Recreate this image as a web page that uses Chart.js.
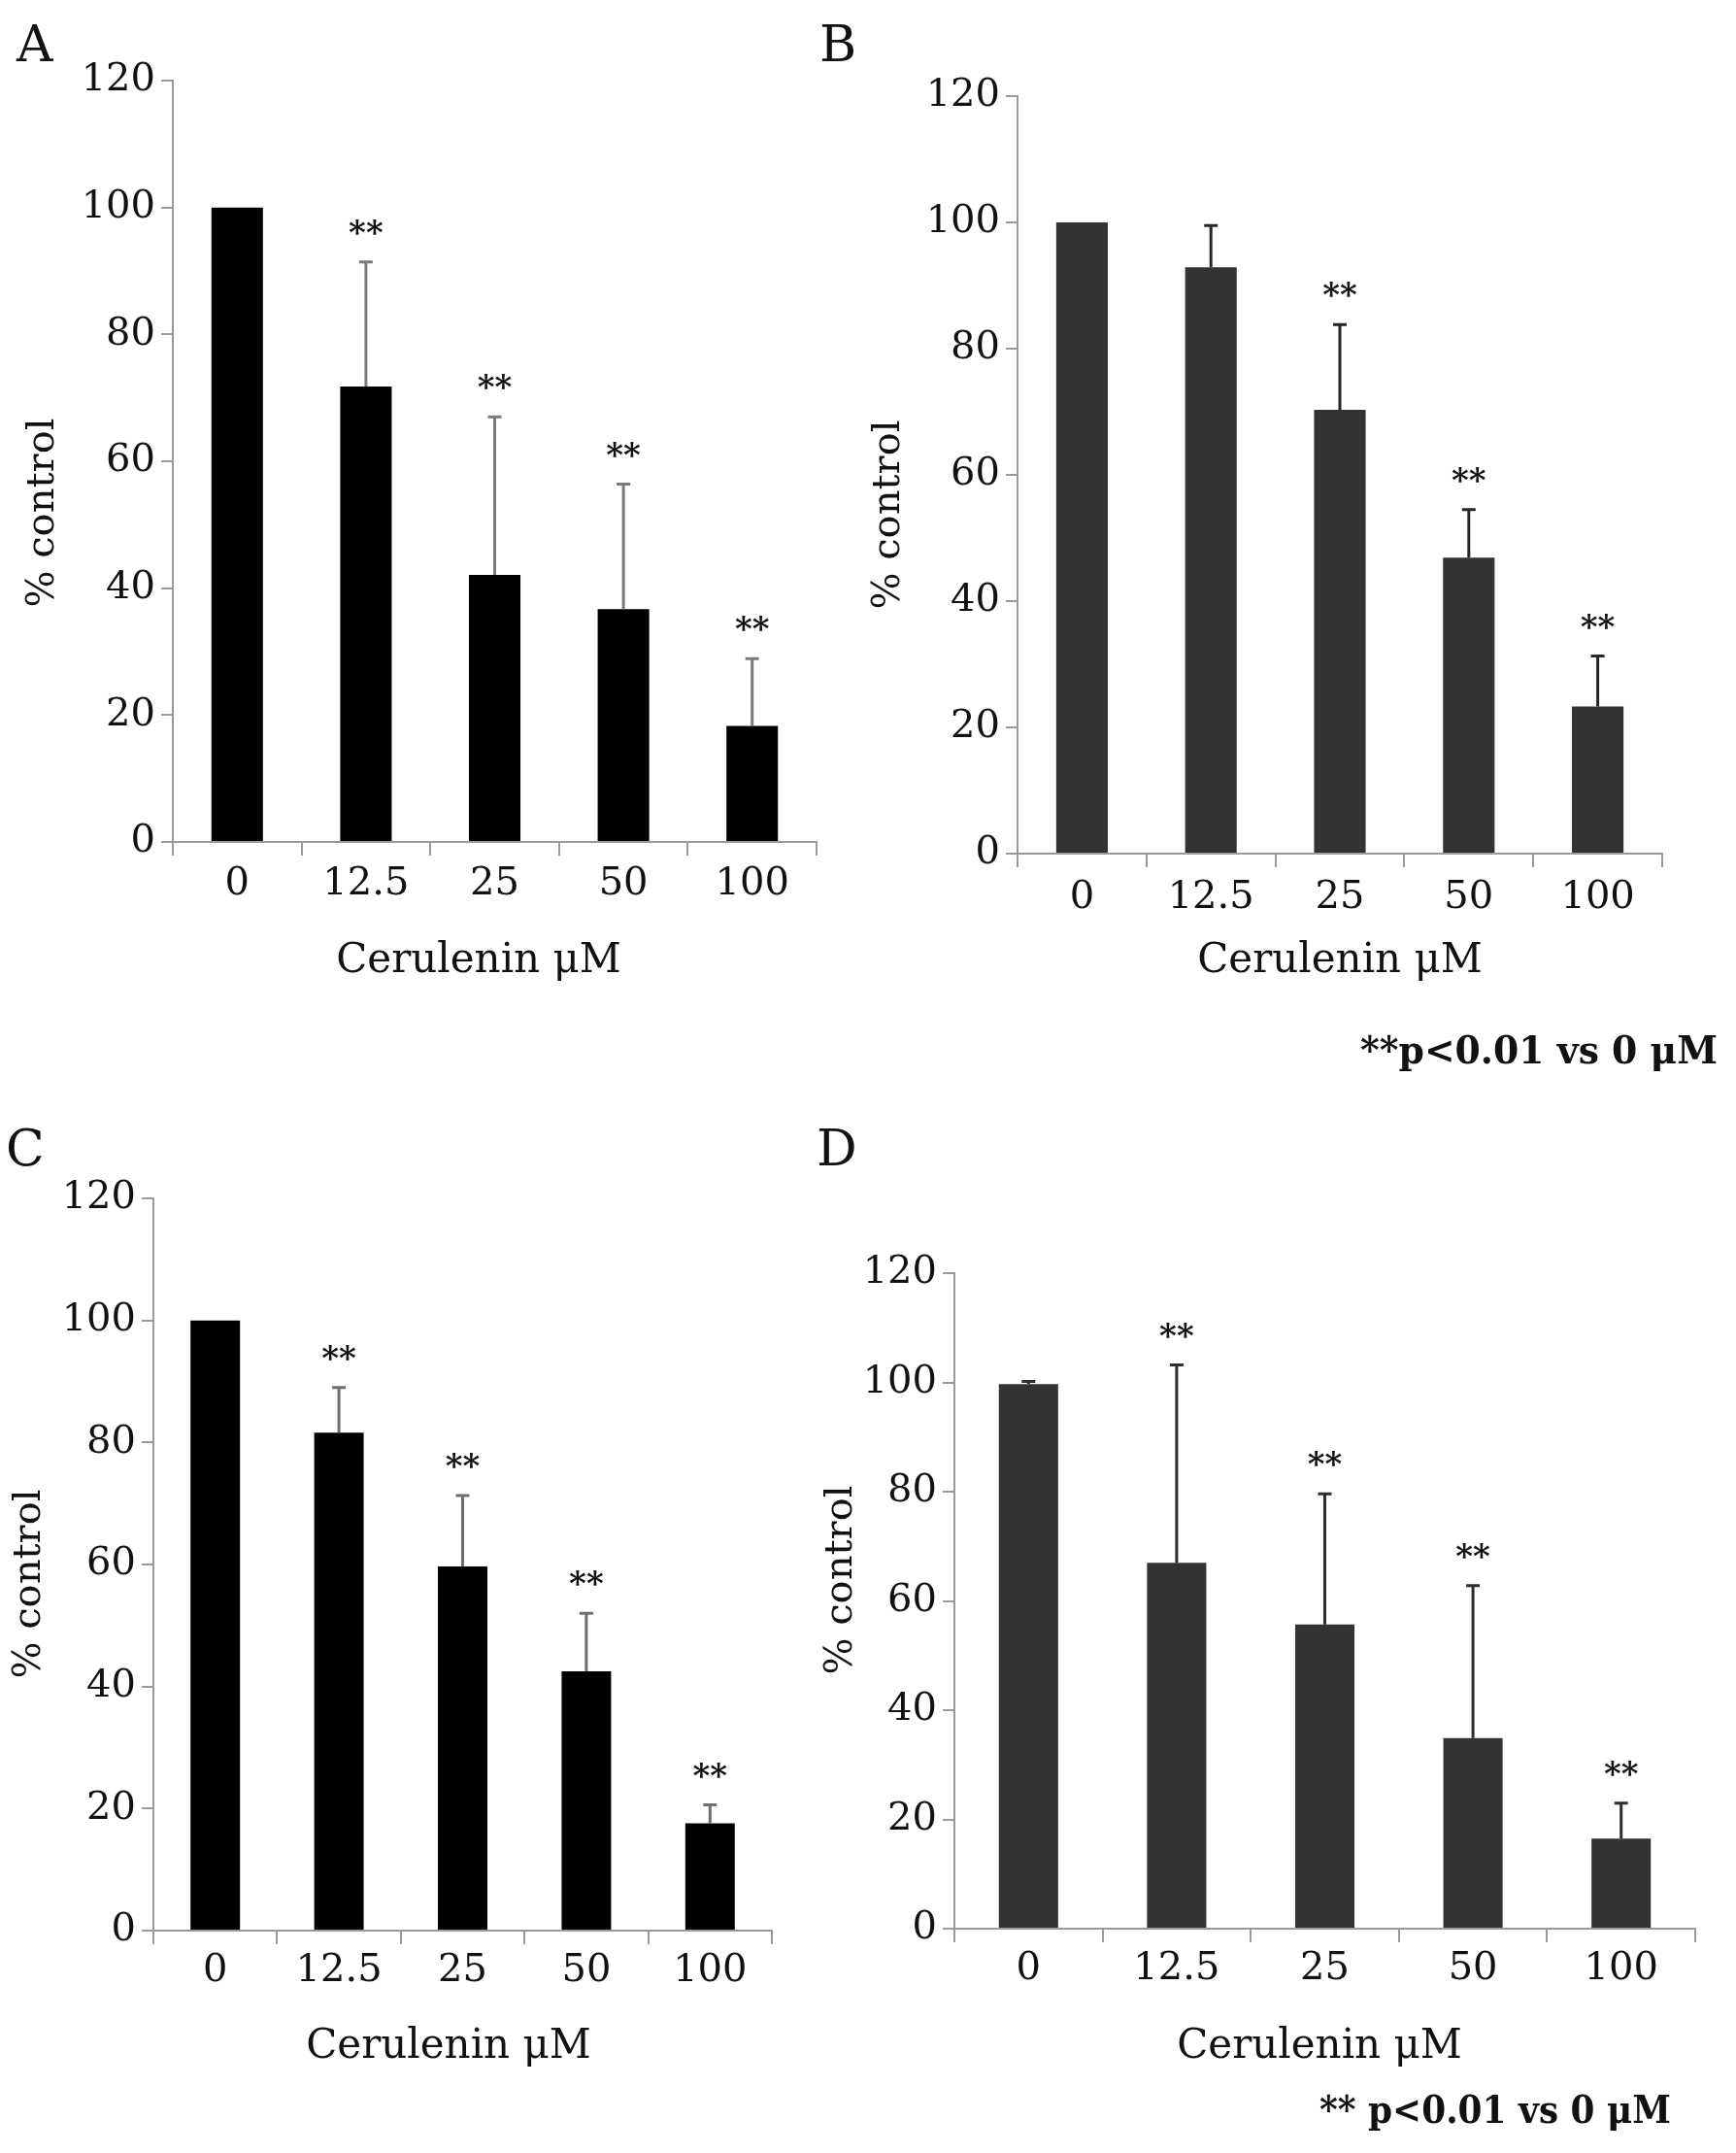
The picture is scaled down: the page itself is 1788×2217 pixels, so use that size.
<!DOCTYPE html>
<html>
<head>
<meta charset="utf-8">
<script src="https://cdn.jsdelivr.net/npm/chart.js@4.4.1/dist/chart.umd.min.js"></script>
<style>
  body { margin: 0; background: #fff; }
  #page { position: relative; width: 1788px; height: 2217px; }
  canvas { position: absolute; left: 0; top: 0; }
</style>
</head>
<body>
<div id="page">
  <canvas id="panelA" width="1788" height="2217"></canvas>
  <canvas id="panelB" width="1788" height="2217"></canvas>
  <canvas id="panelC" width="1788" height="2217"></canvas>
  <canvas id="panelD" width="1788" height="2217"></canvas>
</div>
<script>
// cerulenin concentrations (x categories)
const doses = ['0', '12.5', '25', '50', '100'];

// % control, mean and upper error
const meanA = [100, 71.8, 42.1, 36.7, 18.3];
const errA  = [0, 19.6, 24.9, 19.7, 10.6];
const sigA  = [false, true, true, true, true];

const meanB = [100, 92.9, 70.3, 46.9, 23.3];
const errB  = [0, 6.6, 13.5, 7.6, 8.0];
const sigB  = [false, false, true, true, true];

const meanC = [100, 81.6, 59.7, 42.5, 17.6];
const errC  = [0, 7.4, 11.6, 9.5, 3.0];
const sigC  = [false, true, true, true, true];

const meanD = [99.7, 67.0, 55.7, 34.9, 16.5];
const errD  = [0.5, 36.2, 23.9, 27.9, 6.5];
const sigD  = [false, true, true, true, true];

const PAGE_W = 1788, PAGE_H = 2217;
const AXIS_W = 120, AXIS_H = 80;
const SERIF = '"DejaVu Serif", "Liberation Serif", serif';
const AXIS_GREY = '#9a9a9a';

// draw text so that (x, y) is the visual centre of the ink (or left/right edge)
function drawText(ctx, str, x, y, font, align, rotate, maxWidth) {
  ctx.save();
  ctx.font = font;
  ctx.fillStyle = '#111';
  ctx.textAlign = align || 'center';
  ctx.textBaseline = 'alphabetic';
  const m = ctx.measureText(str);
  const shift = (m.actualBoundingBoxAscent - m.actualBoundingBoxDescent) / 2;
  ctx.translate(x, y);
  if (rotate) ctx.rotate(-Math.PI / 2);
  if (maxWidth) ctx.fillText(str, 0, shift, maxWidth);
  else ctx.fillText(str, 0, shift);
  ctx.restore();
}

function makePanel(id, means, errs, sigs, look) {
  const errorBars = {
    id: 'errorBars',
    afterDatasetsDraw(chart) {
      const ctx = chart.ctx;
      const y = chart.scales.y;
      const bars = chart.getDatasetMeta(0).data;
      ctx.save();
      ctx.strokeStyle = look.whisker;
      ctx.lineWidth = 3;
      bars.forEach((bar, i) => {
        if (!errs[i]) return;
        const y0 = y.getPixelForValue(means[i]);
        const y1 = y.getPixelForValue(means[i] + errs[i]);
        ctx.beginPath();
        ctx.moveTo(bar.x, y0);
        ctx.lineTo(bar.x, y1);
        ctx.moveTo(bar.x - 7, y1);
        ctx.lineTo(bar.x + 7, y1);
        ctx.stroke();
      });
      ctx.restore();
    }
  };

  const annotations = {
    id: 'annotations',
    afterDraw(chart) {
      const ctx = chart.ctx;
      const y = chart.scales.y;
      const bars = chart.getDatasetMeta(0).data;
      bars.forEach((bar, i) => {
        if (!sigs[i]) return;
        const top = y.getPixelForValue(means[i] + errs[i]);
        drawText(ctx, '**', bar.x, top - 36, 'bold 34px ' + SERIF);
      });
      drawText(ctx, look.letter, look.letterAt[0], look.letterAt[1], '52px ' + SERIF, 'left');
      drawText(ctx, '% control', look.yTitleAt[0], look.yTitleAt[1], '40px ' + SERIF, 'center', true);
      drawText(ctx, 'Cerulenin μM', look.xTitleAt[0], look.xTitleAt[1], '42px ' + SERIF);
      if (look.note) {
        drawText(ctx, look.note, look.noteAt[0], look.noteAt[1], 'bold 40px ' + SERIF, 'right', false, look.noteWidth);
      }
    }
  };

  new Chart(document.getElementById(id), {
    type: 'bar',
    data: {
      labels: doses,
      datasets: [{
        data: means,
        backgroundColor: look.bar,
        borderWidth: 0,
        barPercentage: 0.4,
        categoryPercentage: 1
      }]
    },
    options: {
      responsive: false,
      animation: false,
      devicePixelRatio: 1,
      layout: {
        padding: {
          left: look.left - AXIS_W,
          right: PAGE_W - look.right,
          top: look.top,
          bottom: PAGE_H - look.bottom - AXIS_H
        }
      },
      plugins: {
        legend: { display: false },
        tooltip: { enabled: false }
      },
      scales: {
        x: {
          grid: { display: true, offset: true, drawOnChartArea: false, drawTicks: true, tickLength: 14, color: AXIS_GREY, lineWidth: 2 },
          border: { display: true, color: AXIS_GREY, width: 2 },
          ticks: { font: { family: SERIF, size: 40 }, color: '#111', padding: look.xPad },
          afterFit: s => { s.height = AXIS_H; }
        },
        y: {
          min: 0,
          max: 120,
          grid: { display: true, drawOnChartArea: false, drawTicks: true, tickLength: 12, color: AXIS_GREY, lineWidth: 2 },
          border: { display: true, color: AXIS_GREY, width: 2 },
          ticks: { stepSize: 20, font: { family: SERIF, size: 40 }, color: '#111', padding: 6 },
          afterFit: s => { s.width = AXIS_W; }
        }
      }
    },
    plugins: [errorBars, annotations]
  });
}

makePanel('panelA', meanA, errA, sigA, {
  left: 178, right: 841, top: 83, bottom: 867, xPad: 6,
  bar: '#000', whisker: '#7a7a7a',
  letter: 'A', letterAt: [17, 44],
  yTitleAt: [40, 528], xTitleAt: [493, 989]
});

makePanel('panelB', meanB, errB, sigB, {
  left: 1048, right: 1712, top: 99, bottom: 879, xPad: 8,
  bar: '#333', whisker: '#262626',
  letter: 'B', letterAt: [844, 44],
  yTitleAt: [911, 530], xTitleAt: [1380, 989],
  note: '**p<0.01 vs 0 μM', noteAt: [1769, 1084], noteWidth: 368
});

makePanel('panelC', meanC, errC, sigC, {
  left: 158, right: 795, top: 1234, bottom: 1988, xPad: 4,
  bar: '#000', whisker: '#6e6e6e',
  letter: 'C', letterAt: [6, 1181],
  yTitleAt: [26, 1631], xTitleAt: [462, 2107]
});

makePanel('panelD', meanD, errD, sigD, {
  left: 983, right: 1746, top: 1311, bottom: 1986, xPad: 4,
  bar: '#333', whisker: '#2e2e2e',
  letter: 'D', letterAt: [841, 1181],
  yTitleAt: [862, 1627], xTitleAt: [1359, 2107],
  note: '** p<0.01 vs 0 μM', noteAt: [1721, 2175], noteWidth: 362
});
</script>
</body>
</html>
